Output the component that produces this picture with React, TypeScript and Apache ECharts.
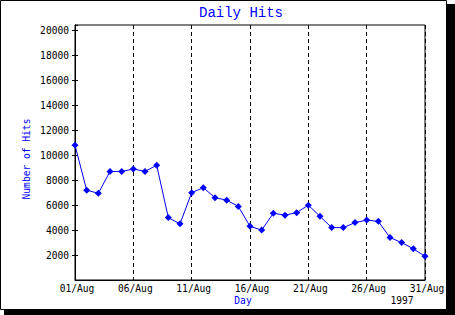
import React, { useEffect, useRef } from "react";
import * as echarts from "echarts";

const days: string[] = [
  "01/Aug","02/Aug","03/Aug","04/Aug","05/Aug","06/Aug","07/Aug","08/Aug","09/Aug","10/Aug",
  "11/Aug","12/Aug","13/Aug","14/Aug","15/Aug","16/Aug","17/Aug","18/Aug","19/Aug","20/Aug",
  "21/Aug","22/Aug","23/Aug","24/Aug","25/Aug","26/Aug","27/Aug","28/Aug","29/Aug","30/Aug","31/Aug",
];
const hits: number[] = [
  10800, 7200, 6950, 8700, 8700, 8900, 8700, 9200, 5000, 4500,
  7000, 7400, 6600, 6400, 5900, 4300, 4000, 5350, 5200, 5400,
  6000, 5100, 4200, 4200, 4600, 4800, 4700, 3400, 3000, 2500, 1900,
];
const yMin = 0;
const yMax = 20440;
const yStep = 2000;

const mono = "DejaVu Sans Mono";
const fs = 9.6;

export default function App() {
  const ref = useRef<HTMLDivElement>(null);
  useEffect(() => {
    document.body.style.margin = "0";
    const chart = echarts.init(ref.current!, undefined, { renderer: "svg" });
    const yCommon = {
      type: "value" as const,
      min: yMin,
      max: yMax,
      interval: yStep,
      position: "left" as const,
      splitLine: { show: false },
      axisLine: { show: true, lineStyle: { color: "#000", width: 1 } },
    };
    chart.setOption({
      animation: false,
      backgroundColor: "transparent",
      graphic: [
        { type: "rect", z: -10, shape: { x: 4, y: 4, width: 451, height: 311 }, style: { fill: "#000" } },
        { type: "rect", z: -9, shape: { x: 0.5, y: 0.5, width: 446, height: 309 }, style: { fill: "#fff", stroke: "#000", lineWidth: 1 } },
        {
          type: "text", x: 241, y: 13,
          style: { text: "Daily Hits", fill: "#0000ff", font: "14px 'Liberation Mono'", align: "center", verticalAlign: "middle" },
        },
        {
          type: "text", x: 26, y: 159, rotation: Math.PI / 2,
          style: { text: "Number of Hits", fill: "#0000ff", font: `${fs}px '${mono}'`, align: "center", verticalAlign: "middle" },
        },
        {
          type: "text", x: 243, y: 300,
          style: { text: "Day", fill: "#0000ff", font: `${fs}px '${mono}'`, align: "center", verticalAlign: "middle" },
        },
        {
          type: "text", x: 402, y: 300,
          style: { text: "1997", fill: "#000", font: `${fs}px '${mono}'`, align: "center", verticalAlign: "middle" },
        },
      ],
      grid: {
        left: 75, right: 30, top: 25, bottom: 35,
        show: true, borderColor: "#000", borderWidth: 1, backgroundColor: "transparent",
      },
      xAxis: {
        type: "category",
        data: days,
        boundaryGap: false,
        axisLine: { show: true, lineStyle: { color: "#000", width: 1 } },
        axisTick: { show: false },
        axisLabel: {
          interval: 4, color: "#000", fontFamily: mono, fontSize: fs, margin: 3,
          padding: [0, 0, 0, 4],
        },
        splitLine: { show: true, interval: 4, lineStyle: { color: "#000", type: [4, 3], width: 1 } },
      },
      yAxis: [
        {
          ...yCommon,
          axisTick: { show: true, inside: false, length: 3, lineStyle: { color: "#000" } },
          axisLabel: {
            color: "#000", fontFamily: mono, fontSize: fs, margin: 6, showMinLabel: false,
            formatter: (v: number) => String(v),
          },
        },
        {
          ...yCommon,
          axisTick: { show: true, inside: true, length: 3, lineStyle: { color: "#000" } },
          axisLabel: { show: false },
        },
      ],
      series: [
        {
          type: "line",
          data: hits,
          yAxisIndex: 0,
          symbol: "diamond",
          symbolSize: 7,
          showAllSymbol: true,
          lineStyle: { color: "#0000ff", width: 1 },
          itemStyle: { color: "#0000ff" },
        },
      ],
    });
    return () => chart.dispose();
  }, []);
  return <div ref={ref} style={{ width: 455, height: 315 }} />;
}
